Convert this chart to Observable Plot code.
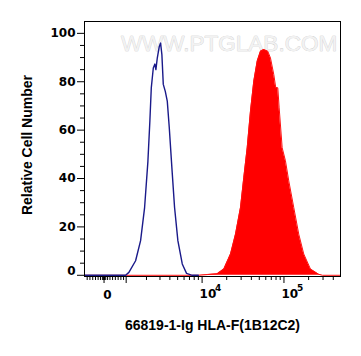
<!DOCTYPE html>
<html><head><meta charset="utf-8">
<script src="https://cdn.jsdelivr.net/npm/d3@7"></script>
<script src="https://cdn.jsdelivr.net/npm/@observablehq/plot@0.6"></script>
<style>body{margin:0;background:#fff}</style>
</head><body><div id="chart"></div>
<script>
// ---- chart text ----
const xTitle = "66819-1-Ig HLA-F(1B12C2)";
const yTitle = "Relative Cell Number";
const watermark = "WWW.PTGLAB.COM";

// ---- isotype control (blue outline) : fluorescence value -> relative count ----
const blueX = [-900, 979, 1111, 1409, 1661, 1886, 2089, 2221, 2317, 2461, 2581, 2659, 2771, 2940, 3054, 3173, 3305, 3503, 3711, 3932, 4237, 4578, 5031, 5702, 6442, 7573, 9000];
const blueY = [0, 0, 1.2, 6, 14.3, 28, 47, 64, 77.5, 85.7, 87.3, 85, 89.8, 94.6, 96, 91.2, 78.9, 76, 72, 61, 44.5, 28, 14.3, 4.7, 0.8, 0, 0];

// ---- antibody stained (red filled) ----
const redX = [-900, 9000, 11580, 15330, 18460, 22280, 25630, 29490, 32360, 35600, 39060, 42840, 47150, 51710, 56740, 63480, 68500, 75120, 79450, 84100, 87410, 95110, 104300, 114500, 131800, 151600, 174500, 210500, 265800, 295000, 490000];
const redY = [0, 0, 0.3, 0.6, 2.6, 8.8, 17, 28, 40.4, 52.7, 67.9, 80.2, 88.5, 92.6, 93.3, 92.6, 89.8, 83, 77.5, 77.5, 69.2, 52.7, 47.3, 39, 28, 17, 8.8, 2.6, 0.4, 0, 0];

// ---- axes ----
const yTicks = [0, 20, 40, 60, 80, 100];
const yMinorTicks = [5, 10, 15, 25, 30, 35, 45, 50, 55, 65, 70, 75, 85, 90, 95];
const xMajorTicks = [0, 1000, 10000, 100000];
const xLabelTicks = [10000, 100000];
const xMinorTicks = [-800, -700, -600, -500, -400, -300, -200, -100, 100, 200, 300, 400, 500, 600, 700, 800, 900,
  2000, 3000, 4000, 5000, 6000, 7000, 8000, 9000,
  20000, 30000, 40000, 50000, 60000, 70000, 80000, 90000,
  200000, 300000, 400000];
const xRange = [-900, 490000];
const yRange = [-0.5, 104.9];

// biexponential-like display transform (linear near zero, log for large values)
const W = 636.6;
const biex = v => Math.sign(v) * 0.5 * Math.log10(1 + (v / W) ** 2);

const blue = blueX.map((x, i) => ({x, y: blueY[i]}));
const red = redX.map((x, i) => ({x, y: redY[i]}));

const tickFont = {fontFamily: "DejaVu Sans", fontWeight: "bold", fontSize: 12, fill: "black"};
const titleFont = {fontFamily: "Liberation Sans, Arial", fontWeight: "bold", fontSize: 14, fill: "black"};

const chart = Plot.plot({
  width: 361,
  height: 356,
  marginLeft: 84,
  marginRight: 21,
  marginTop: 21,
  marginBottom: 80,
  style: {background: "white", fontFamily: "DejaVu Sans"},
  x: {type: "linear", domain: xRange.map(biex)},
  y: {domain: yRange},
  marks: [
    Plot.text([watermark], {frameAnchor: "top", dx: 16.5, dy: 14, text: d => d,
      fontFamily: "Liberation Sans, Arial", fontSize: 22.5, fill: "#f2f2f2", stroke: "#c6c6c6", strokeWidth: 0.6}),
    Plot.areaY(red, {x: d => biex(d.x), y: "y", fill: "#ff0000", curve: "linear"}),
    Plot.lineY(red, {x: d => biex(d.x), y: "y", stroke: "#ff1010", strokeWidth: 1}),
    Plot.lineY(blue, {x: d => biex(d.x), y: "y", stroke: "#1a1a8a", strokeWidth: 1.4}),
    Plot.frame({stroke: "black", strokeWidth: 1}),
    // x axis ticks
    Plot.axisX(xMajorTicks.map(biex), {anchor: "bottom", tickSize: 7, tickFormat: () => "", label: null, stroke: "black"}),
    Plot.axisX(xMinorTicks.map(biex), {anchor: "bottom", tickSize: 4, tickFormat: () => "", label: null, stroke: "black"}),
    // x tick labels
    Plot.text([0], {x: d => biex(d), text: () => "0", frameAnchor: "bottom", dx: 3.5, dy: 22, ...tickFont}),
    Plot.text(xLabelTicks, {x: d => biex(d), text: () => "10", frameAnchor: "bottom", textAnchor: "start", dx: -2.5, dy: 21.5, ...tickFont}),
    Plot.text(xLabelTicks, {x: d => biex(d), text: d => String(Math.round(Math.log10(d))), frameAnchor: "bottom", textAnchor: "start", dx: 13, dy: 14.5, ...tickFont, fontSize: 9}),
    // y axis ticks
    Plot.axisY(yTicks, {anchor: "left", tickSize: 7, tickFormat: () => "", label: null, stroke: "black"}),
    Plot.axisY(yMinorTicks, {anchor: "left", tickSize: 4, tickFormat: () => "", label: null, stroke: "black"}),
    // y tick labels
    Plot.text(yTicks.filter(v => v > 0), {y: d => d, text: d => String(d), frameAnchor: "left", textAnchor: "end", dx: -9, ...tickFont}),
    Plot.text([0], {y: d => d, text: d => String(d), frameAnchor: "left", textAnchor: "end", dx: -9, dy: -4, ...tickFont}),
    // titles
    Plot.text([xTitle], {text: d => d, frameAnchor: "bottom", textAnchor: "middle", dy: 53, ...titleFont}),
    Plot.text([yTitle], {text: d => d, frameAnchor: "left", textAnchor: "middle", rotate: -90, dx: -57, dy: -4, ...titleFont})
  ]
});
document.getElementById("chart").appendChild(chart);
</script>
</body></html>
